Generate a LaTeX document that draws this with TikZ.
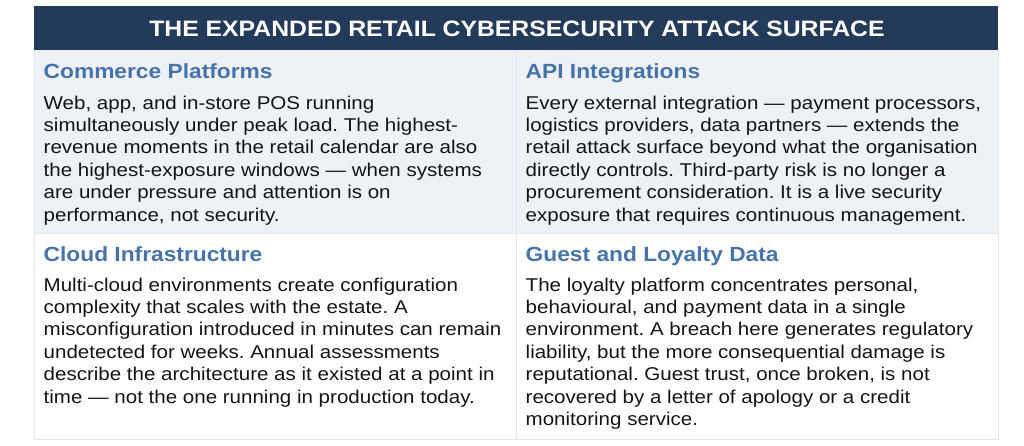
\documentclass[tikz,border=0pt]{standalone}
\usepackage{fontspec}
\setmainfont{Liberation Sans}[FakeStretch=1.11]

\definecolor{navy}{HTML}{243A5A}
\definecolor{headblue}{HTML}{4673AC}
\definecolor{rowtint}{HTML}{EEF2F7}
\definecolor{gridline}{HTML}{E4E8EE}

\begin{document}
\frenchspacing
\begin{tikzpicture}[x=1pt,y=-1pt]

\tikzset{banner/.style = {anchor=base, inner sep=0, text=white, font=\bfseries\fontsize{22.3}{26}\selectfont}}
\tikzset{head/.style = {anchor=base west, inner sep=0, text=headblue, font=\bfseries\fontsize{20.5}{24}\selectfont}}
\tikzset{body/.style = {anchor=north west, inner sep=0, align=left, text=black!92, font=\fontsize{18.5}{22.4}\selectfont}}
\tikzset{cell/.style = {draw=gridline, line width=0.8pt}}
\useasboundingbox (0,0) rectangle (1024,445);
%bands
\fill[navy] (34,6) rectangle (998,50);
\filldraw[cell, fill=rowtint] (34,50) rectangle (516,233.5);
\filldraw[cell, fill=rowtint] (516,50) rectangle (998,233.5);
\draw[cell] (34,233.5) rectangle (516,439.5);
\draw[cell] (516,233.5) rectangle (998,439.5);
%title
\node[banner] (title) at (517,36) {THE EXPANDED RETAIL CYBERSECURITY ATTACK SURFACE};
%headings
\node[head] (commerce) at (43.5,78.3) {Commerce Platforms};
\node[head] (api) at (525.5,78.3) {API Integrations};
\node[head] (cloud) at (43.5,261.7) {Cloud Infrastructure};
\node[head] (guest) at (525.5,261.7) {Guest and Loyalty Data};
%texts
\node[body] (commercetxt) at (43.5,93.3) {\strut Web, app, and in-store POS running\\
simultaneously under peak load. The highest-\\
revenue moments in the retail calendar are also\\
the highest-exposure windows — when systems\\
are under pressure and attention is on\\
performance, not security.};
\node[body] (apitxt) at (525.5,93.3) {\strut Every external integration — payment processors,\\
logistics providers, data partners — extends the\\
retail attack surface beyond what the organisation\\
directly controls. Third-party risk is no longer a\\
procurement consideration. It is a live security\\
exposure that requires continuous management.};
\node[body] (cloudtxt) at (43.5,275.3) {\strut Multi-cloud environments create configuration\\
complexity that scales with the estate. A\\
misconfiguration introduced in minutes can remain\\
undetected for weeks. Annual assessments\\
describe the architecture as it existed at a point in\\
time — not the one running in production today.};
\node[body] (guesttxt) at (525.5,275.3) {\strut The loyalty platform concentrates personal,\\
behavioural, and payment data in a single\\
environment. A breach here generates regulatory\\
liability, but the more consequential damage is\\
reputational. Guest trust, once broken, is not\\
recovered by a letter of apology or a credit\\
monitoring service.};

\end{tikzpicture}
\end{document}
